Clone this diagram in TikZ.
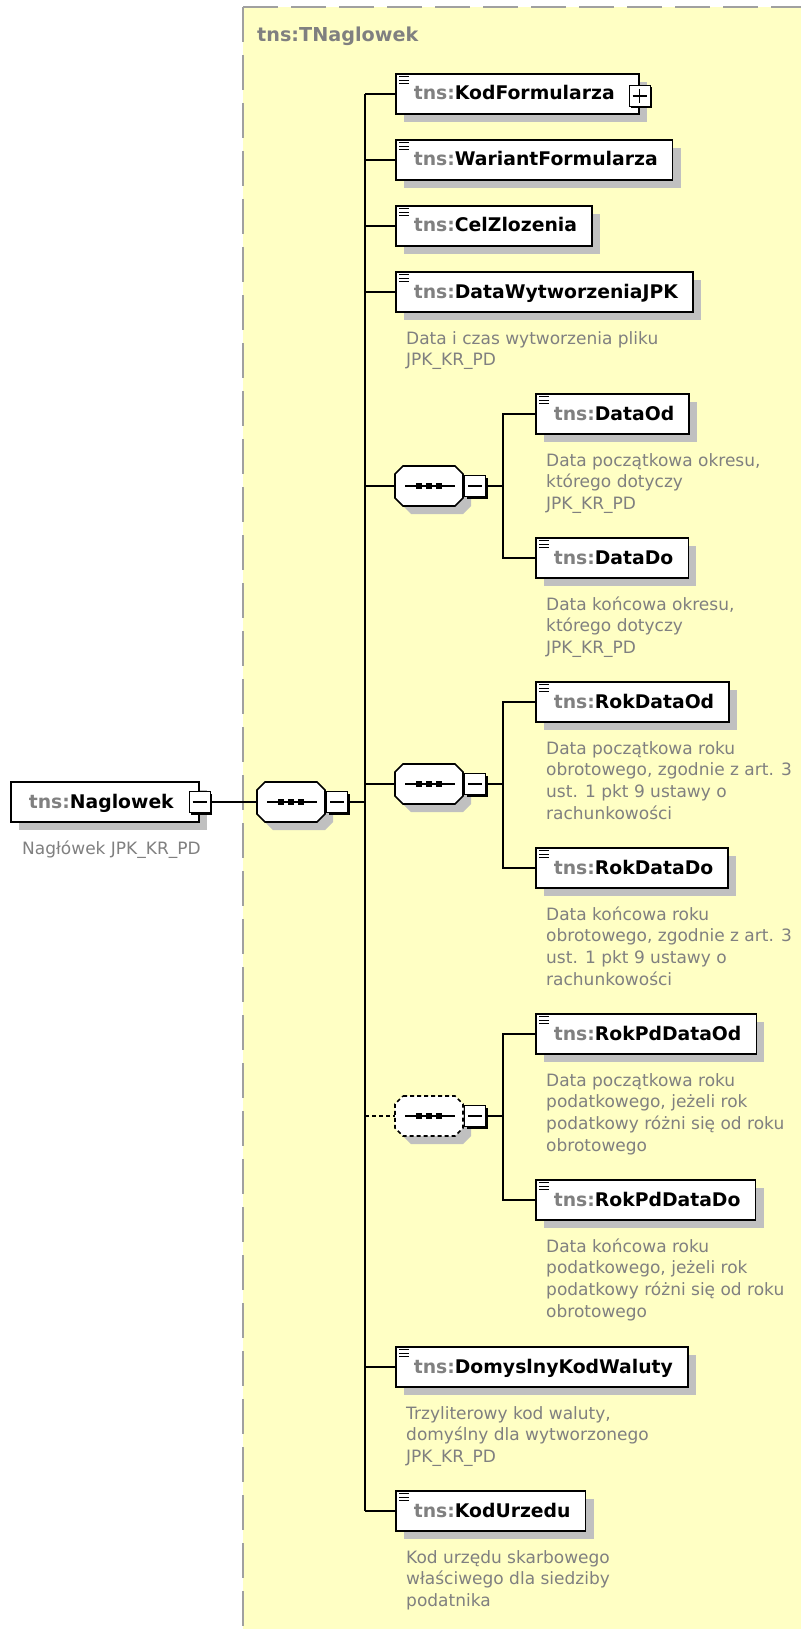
\documentclass[tikz,border=0pt]{standalone}
\usepackage{fontspec}
\setmainfont{DejaVu Sans}
\usetikzlibrary{shadows,calc}
\definecolor{bgy}{RGB}{255,255,196}
\definecolor{dashg}{RGB}{160,160,160}
\definecolor{shadowc}{RGB}{192,192,192}
\definecolor{tnsg}{RGB}{128,128,128}
\definecolor{capg}{RGB}{128,128,128}
\newcommand\nm[1]{{\color{tnsg}tns:}#1}
\newcommand\elembox[5]{%
  \node[elem] (#1) at (#2,#3) {\hspace*{18pt}\nm{#4}\hspace*{#5pt}};
  \foreach \d in {3.5,7,10.5} \draw[line width=1pt] ([xshift=4pt,yshift=-\d pt]#1.north west) -- ++(10,0);
}
\newcommand\seqgrp[4]{%
  \node[hiddenbox] (#1) at (#2,#3) {};
  \fill[shadowc] ({#2-26+8},{#3-20+8}) -- ({#2+26+8},{#3-20+8}) -- ({#2+34+8},{#3-12+8}) -- ({#2+34+8},{#3+12+8}) -- ({#2+26+8},{#3+20+8}) -- ({#2-26+8},{#3+20+8}) -- ({#2-34+8},{#3+12+8}) -- ({#2-34+8},{#3-12+8}) -- cycle;
  \draw[line width=1.6pt, fill=white, #4] ({#2-26},{#3-20}) -- ({#2+26},{#3-20}) -- ({#2+34},{#3-12}) -- ({#2+34},{#3+12}) -- ({#2+26},{#3+20}) -- ({#2-26},{#3+20}) -- ({#2-34},{#3+12}) -- ({#2-34},{#3-12}) -- cycle;
  \draw[line width=1.4pt] ({#2-24},#3) -- ({#2+26},#3);
  \foreach \dx in {-10,0,10} \fill ({#2+\dx-2.7},{#3-2.7}) rectangle ({#2+\dx+2.7},{#3+2.7});
  \node[pmbox] (#1-m) at ({#2+46},#3) {};
  \draw[line width=1.2pt] ([xshift=4pt]#1-m.west) -- ([xshift=-4pt]#1-m.east);
}
\begin{document}
\begin{tikzpicture}[x=1pt,y=-1pt,
  elem/.style={draw=black, line width=1.6pt, fill=white, inner sep=0pt, text height=26pt, text depth=14pt, anchor=west, font=\fontsize{18.8}{23}\selectfont\bfseries, general shadow={fill=shadowc, shadow xshift=8pt, shadow yshift=-8pt}},
  pmbox/.style={draw=black, line width=1pt, fill=white, minimum size=21pt, inner sep=0pt, general shadow={fill=black, shadow xshift=2pt, shadow yshift=-2pt}},
  captext/.style={anchor=north west, inner sep=0pt, align=left, text=capg, font=\fontsize{17}{21.7}\selectfont},
  conn/.style={line width=1.4pt},
  hiddenbox/.style={inner sep=0pt, minimum width=68pt, minimum height=40pt}
]
\useasboundingbox (0,0) rectangle (801,1629);
\fill[white] (0,0) rectangle (801,1629);
\fill[bgy] (243,7) rectangle (801,1629);
\draw[dashg, line width=2pt, dash pattern=on 35pt off 13pt] (243,7) -- (243,1629);
\draw[dashg, line width=2pt, dash pattern=on 35pt off 13pt] (243,7) -- (801,7);
\node[anchor=base west, inner sep=0pt, text=tnsg, font=\fontsize{19.2}{23}\selectfont\bfseries] (title) at (257,42) {tns:TNaglowek};

% root element
\node[elem] (nag) at (10,802) {\hspace*{18pt}\nm{Naglowek}\hspace*{25pt}};
\node[pmbox] (nag-m) at (nag.east) {};
\draw[line width=1.2pt] ([xshift=4pt]nag-m.west) -- ([xshift=-4pt]nag-m.east);
\node[captext] (nag-c) at ([xshift=12pt,yshift=-16pt]nag.south west) {\rule{0pt}{15pt}Nagłówek JPK\_KR\_PD};

% sequences
\seqgrp{s0}{291}{802}{}
\seqgrp{s1}{429}{486}{}
\seqgrp{s2}{429}{784}{}
\seqgrp{s3}{429}{1116}{dash pattern=on 4pt off 3pt}

% level 1 elements
\elembox{kod}{395}{94}{KodFormularza}{24}
\node[pmbox] (kod-p) at ([yshift=-2pt]kod.east) {};
\draw[line width=1.2pt] ([xshift=4pt]kod-p.west) -- ([xshift=-4pt]kod-p.east);
\draw[line width=1.2pt] ([yshift=-4pt]kod-p.north) -- ([yshift=4pt]kod-p.south);
\elembox{war}{395}{160}{WariantFormularza}{15}
\elembox{cel}{395}{226}{CelZlozenia}{15}
\elembox{dw}{395}{292}{DataWytworzeniaJPK}{15}
\node[captext] (dw-c) at ([xshift=11pt,yshift=-16pt]dw.south west) {\rule{0pt}{15pt}Data i czas wytworzenia pliku\\JPK\_KR\_PD};
\elembox{dom}{395}{1367}{DomyslnyKodWaluty}{15}
\node[captext] (dom-c) at ([xshift=11pt,yshift=-16pt]dom.south west) {\rule{0pt}{15pt}Trzyliterowy kod waluty,\\domyślny dla wytworzonego\\JPK\_KR\_PD};
\elembox{urz}{395}{1511}{KodUrzedu}{15}
\node[captext] (urz-c) at ([xshift=11pt,yshift=-16pt]urz.south west) {\rule{0pt}{15pt}Kod urzędu skarbowego\\właściwego dla siedziby\\podatnika};

% level 2 elements
\elembox{od}{535}{414}{DataOd}{15}
\node[captext] (od-c) at ([xshift=11pt,yshift=-16pt]od.south west) {\rule{0pt}{15pt}Data początkowa okresu,\\którego dotyczy\\JPK\_KR\_PD};
\elembox{do}{535}{558}{DataDo}{15}
\node[captext] (do-c) at ([xshift=11pt,yshift=-16pt]do.south west) {\rule{0pt}{15pt}Data końcowa okresu,\\którego dotyczy\\JPK\_KR\_PD};
\elembox{rod}{535}{702}{RokDataOd}{15}
\node[captext] (rod-c) at ([xshift=11pt,yshift=-16pt]rod.south west) {\rule{0pt}{15pt}Data początkowa roku\\obrotowego, zgodnie z art. 3\\ust. 1 pkt 9 ustawy o\\rachunkowości};
\elembox{rdo}{535}{868}{RokDataDo}{15}
\node[captext] (rdo-c) at ([xshift=11pt,yshift=-16pt]rdo.south west) {\rule{0pt}{15pt}Data końcowa roku\\obrotowego, zgodnie z art. 3\\ust. 1 pkt 9 ustawy o\\rachunkowości};
\elembox{pod}{535}{1034}{RokPdDataOd}{15}
\node[captext] (pod-c) at ([xshift=11pt,yshift=-16pt]pod.south west) {\rule{0pt}{15pt}Data początkowa roku\\podatkowego, jeżeli rok\\podatkowy różni się od roku\\obrotowego};
\elembox{pdo}{535}{1200}{RokPdDataDo}{15}
\node[captext] (pdo-c) at ([xshift=11pt,yshift=-16pt]pdo.south west) {\rule{0pt}{15pt}Data końcowa roku\\podatkowego, jeżeli rok\\podatkowy różni się od roku\\obrotowego};

% connectors
\coordinate (v1) at (365,802);
\coordinate (v2) at (503,486);
\draw[conn] (nag-m.east) -- (s0.west);
\draw[conn] (s0-m.east) -- (v1);
\draw[conn] (v1 |- kod.west) -- (v1 |- urz.west);
\foreach \n in {kod,war,cel,dw,s1,s2,dom,urz} \draw[conn] (v1 |- \n.west) -- (\n.west);
\draw[conn, dash pattern=on 4pt off 3pt] (v1 |- s3.west) -- (s3.west);
\draw[conn] (s1-m.east) -- (s1-m.east -| v2);
\draw[conn] (od.west) -- (od.west -| v2) -- (do.west -| v2) -- (do.west);
\draw[conn] (s2-m.east) -- (s2-m.east -| v2);
\draw[conn] (rod.west) -- (rod.west -| v2) -- (rdo.west -| v2) -- (rdo.west);
\draw[conn] (s3-m.east) -- (s3-m.east -| v2);
\draw[conn] (pod.west) -- (pod.west -| v2) -- (pdo.west -| v2) -- (pdo.west);
\end{tikzpicture}
\end{document}
